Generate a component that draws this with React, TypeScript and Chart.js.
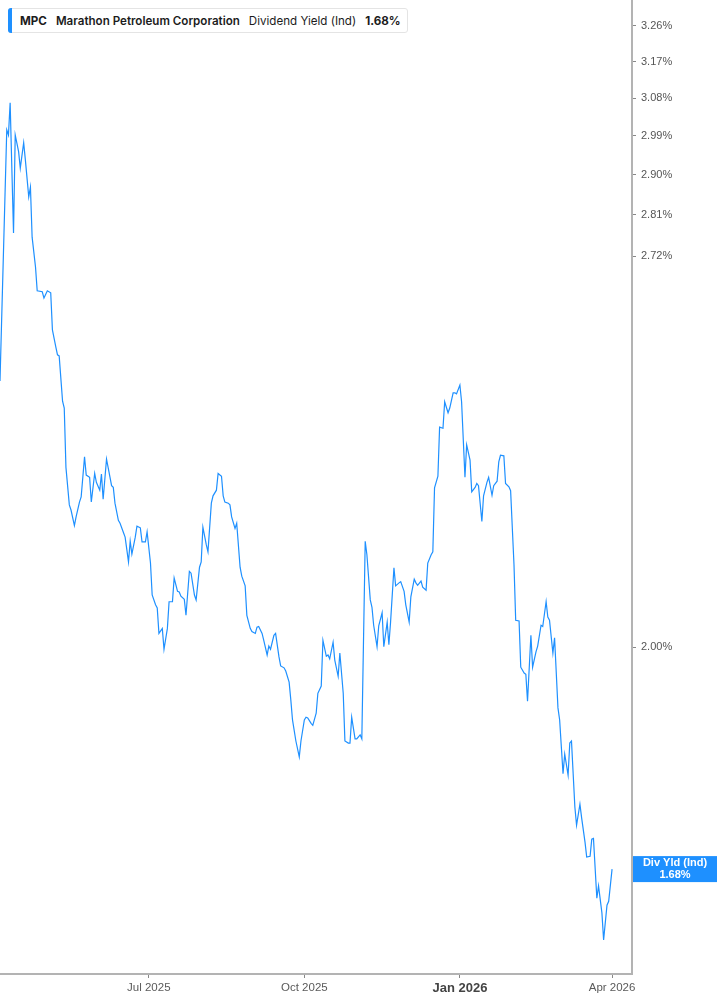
import React, { useEffect, useRef } from "react";
import { Chart, registerables } from "chart.js";

Chart.register(...registerables);

// ---- data ----
const ticker = "MPC";
const company = "Marathon Petroleum Corporation";
const metric = "Dividend Yield (Ind)";
const tagLabel = "Div Yld (Ind)";

const dates: string[] = [
  "2025-04-04", "2025-04-08", "2025-04-09", "2025-04-10", "2025-04-12", "2025-04-13", "2025-04-15", "2025-04-16", "2025-04-18", "2025-04-19",
  "2025-04-21", "2025-04-22", "2025-04-23", "2025-04-25", "2025-04-26", "2025-04-29", "2025-04-30",
  "2025-05-02", "2025-05-04", "2025-05-05", "2025-05-07", "2025-05-08", "2025-05-09", "2025-05-11", "2025-05-12", "2025-05-13", "2025-05-15",
  "2025-05-16", "2025-05-18", "2025-05-19", "2025-05-21", "2025-05-22", "2025-05-24", "2025-05-25", "2025-05-27", "2025-05-28", "2025-05-30", "2025-05-31",
  "2025-06-02", "2025-06-03", "2025-06-04", "2025-06-06", "2025-06-07", "2025-06-09", "2025-06-10", "2025-06-11", "2025-06-13", "2025-06-14",
  "2025-06-16", "2025-06-17", "2025-06-19", "2025-06-20", "2025-06-21", "2025-06-23", "2025-06-24", "2025-06-26", "2025-06-27", "2025-06-29", "2025-06-30",
  "2025-07-02", "2025-07-03", "2025-07-05", "2025-07-06", "2025-07-07", "2025-07-09", "2025-07-10", "2025-07-12", "2025-07-13", "2025-07-15",
  "2025-07-16", "2025-07-18", "2025-07-19", "2025-07-20", "2025-07-22", "2025-07-23", "2025-07-25", "2025-07-26", "2025-07-28", "2025-07-29", "2025-07-31",
  "2025-08-01", "2025-08-02", "2025-08-04", "2025-08-05", "2025-08-07", "2025-08-08", "2025-08-10", "2025-08-11", "2025-08-13", "2025-08-14",
  "2025-08-15", "2025-08-17", "2025-08-18", "2025-08-19", "2025-08-21", "2025-08-22", "2025-08-24", "2025-08-25", "2025-08-27", "2025-08-28", "2025-08-30", "2025-08-31",
  "2025-09-02", "2025-09-03", "2025-09-04", "2025-09-06", "2025-09-07", "2025-09-09", "2025-09-10", "2025-09-11", "2025-09-13", "2025-09-14",
  "2025-09-16", "2025-09-17", "2025-09-19", "2025-09-20", "2025-09-22", "2025-09-23", "2025-09-24", "2025-09-26", "2025-09-28", "2025-09-29",
  "2025-10-01", "2025-10-02", "2025-10-03", "2025-10-05", "2025-10-06", "2025-10-08", "2025-10-09", "2025-10-11", "2025-10-12", "2025-10-14",
  "2025-10-15", "2025-10-16", "2025-10-18", "2025-10-19", "2025-10-21", "2025-10-22", "2025-10-24", "2025-10-25", "2025-10-27", "2025-10-28", "2025-10-29", "2025-10-31",
  "2025-11-01", "2025-11-03", "2025-11-04", "2025-11-06", "2025-11-07", "2025-11-09", "2025-11-10", "2025-11-11", "2025-11-13", "2025-11-14",
  "2025-11-16", "2025-11-17", "2025-11-19", "2025-11-20", "2025-11-21", "2025-11-23", "2025-11-24", "2025-11-26", "2025-11-27", "2025-11-29", "2025-11-30",
  "2025-12-02", "2025-12-03", "2025-12-05", "2025-12-06", "2025-12-07", "2025-12-09", "2025-12-10", "2025-12-12", "2025-12-13", "2025-12-15",
  "2025-12-16", "2025-12-17", "2025-12-19", "2025-12-20", "2025-12-22", "2025-12-23", "2025-12-25", "2025-12-26", "2025-12-28", "2025-12-29", "2025-12-30",
  "2026-01-01", "2026-01-02", "2026-01-04", "2026-01-05", "2026-01-07", "2026-01-08", "2026-01-10", "2026-01-11", "2026-01-12", "2026-01-14",
  "2026-01-15", "2026-01-17", "2026-01-18", "2026-01-20", "2026-01-21", "2026-01-23", "2026-01-24", "2026-01-25", "2026-01-27", "2026-01-28", "2026-01-30", "2026-01-31",
  "2026-02-02", "2026-02-03", "2026-02-05", "2026-02-06", "2026-02-08", "2026-02-09", "2026-02-10", "2026-02-12", "2026-02-13", "2026-02-15",
  "2026-02-16", "2026-02-18", "2026-02-19", "2026-02-21", "2026-02-22", "2026-02-23", "2026-02-25", "2026-02-26", "2026-02-28",
  "2026-03-01", "2026-03-03", "2026-03-04", "2026-03-06", "2026-03-07", "2026-03-08", "2026-03-10", "2026-03-11", "2026-03-13", "2026-03-14",
  "2026-03-16", "2026-03-17", "2026-03-19", "2026-03-20", "2026-03-21", "2026-03-23", "2026-03-24", "2026-03-26", "2026-03-27", "2026-03-29", "2026-03-30",
  "2026-04-01",
];

const yieldPct: number[] = [
  2.466, 3.004, 2.992, 3.069, 2.770, 2.992, 2.953, 2.915, 2.974, 2.934,
  2.850, 2.872, 2.761, 2.697, 2.647, 2.645, 2.632,
  2.647, 2.643, 2.567, 2.533, 2.517, 2.515, 2.427, 2.414, 2.304, 2.237,
  2.228, 2.201, 2.216, 2.242, 2.251, 2.323, 2.290, 2.286, 2.242, 2.293, 2.277,
  2.263, 2.292, 2.247, 2.319, 2.303, 2.271, 2.268, 2.240, 2.210, 2.205,
  2.189, 2.181, 2.139, 2.174, 2.152, 2.181, 2.200, 2.197, 2.173, 2.173, 2.190,
  2.137, 2.084, 2.068, 2.063, 2.022, 2.030, 1.997, 2.030, 2.073, 2.073,
  2.112, 2.090, 2.089, 2.082, 2.077, 2.051, 2.123, 2.120, 2.084, 2.076, 2.130,
  2.139, 2.198, 2.168, 2.156, 2.240, 2.253, 2.263, 2.293, 2.288, 2.253,
  2.242, 2.240, 2.237, 2.216, 2.196, 2.205, 2.130, 2.115, 2.099, 2.051, 2.030, 2.025,
  2.022, 2.032, 2.033, 2.022, 2.011, 1.988, 2.002, 1.997, 2.019, 2.022,
  1.985, 1.971, 1.968, 1.963, 1.946, 1.919, 1.889, 1.858, 1.835, 1.858,
  1.889, 1.893, 1.892, 1.884, 1.881, 1.899, 1.929, 1.940, 2.011, 1.986,
  1.988, 1.982, 2.008, 1.980, 1.955, 1.991, 1.929, 1.858, 1.855, 1.855, 1.893, 1.861,
  1.861, 1.867, 1.861, 2.174, 2.151, 2.076, 2.064, 2.035, 2.001, 2.034,
  2.055, 2.001, 2.040, 2.004, 2.040, 2.129, 2.099, 2.104, 2.106, 2.090, 2.068,
  2.040, 2.081, 2.110, 2.104, 2.100, 2.107, 2.097, 2.092, 2.137, 2.151,
  2.156, 2.267, 2.288, 2.378, 2.376, 2.426, 2.405, 2.414, 2.443, 2.443, 2.441,
  2.458, 2.426, 2.286, 2.345, 2.317, 2.260, 2.268, 2.275, 2.271, 2.208,
  2.253, 2.277, 2.286, 2.254, 2.271, 2.279, 2.314, 2.326, 2.325, 2.275, 2.269, 2.262,
  2.134, 2.043, 2.042, 1.969, 1.960, 1.958, 1.917, 2.019, 1.969, 1.993,
  2.002, 2.035, 2.033, 2.073, 2.048, 2.043, 1.991, 2.015, 1.907,
  1.889, 1.811, 1.839, 1.809, 1.855, 1.858, 1.764, 1.739, 1.768, 1.749,
  1.716, 1.696, 1.697, 1.720, 1.721, 1.642, 1.658, 1.623, 1.589, 1.633, 1.638,
  1.680,
];

const yTickValues: number[] = [3.26, 3.17, 3.08, 2.99, 2.9, 2.81, 2.72, 2.0];
const xTickDates: string[] = ["2025-07-01", "2025-10-01", "2026-01-01", "2026-04-01"];
const xTickLabels: string[] = ["Jul 2025", "Oct 2025", "Jan 2026", "Apr 2026"];
const boldTickLabel = "Jan 2026";

const X_MIN = "2025-04-04T00:00:00Z";
const X_MAX = "2026-04-12T19:00:00Z";
const Y_MIN = 1.547;
const Y_MAX = 3.327;

const LINE_BLUE = "#1e90ff";
const AXIS_FONT = '"Liberation Sans", Arial, sans-serif';

const toTs = (s: string) => Date.parse(s.length === 10 ? s + "T00:00:00Z" : s);

const tagPlugin = {
  id: "lastValueTag",
  afterDraw(chart: any) {
    const { ctx, chartArea } = chart;
    const y = chart.scales.y;
    const last = yieldPct[yieldPct.length - 1];
    const py = y.getPixelForValue(last);
    const x0 = chartArea.right + 1;
    const w = chart.width - x0;
    const h = 26;
    ctx.save();
    ctx.fillStyle = LINE_BLUE;
    ctx.fillRect(x0, py - h / 2, w, h);
    ctx.fillStyle = "#ffffff";
    ctx.font = `bold 11px ${AXIS_FONT}`;
    ctx.textAlign = "center";
    ctx.textBaseline = "middle";
    ctx.fillText(tagLabel, x0 + w / 2, py - 6);
    ctx.fillText(last.toFixed(2) + "%", x0 + w / 2, py + 6);
    ctx.restore();
  },
};

export default function App() {
  const canvasRef = useRef<HTMLCanvasElement | null>(null);

  useEffect(() => {
    if (!canvasRef.current) return;
    const points = dates.map((d, i) => ({ x: toTs(d), y: yieldPct[i] }));
    const xTickTs = xTickDates.map(toTs);
    const isBold = (c: any) => c.tick && xTickLabels[xTickTs.indexOf(c.tick.value)] === boldTickLabel;

    const chart = new Chart(canvasRef.current, {
      type: "line",
      data: {
        datasets: [
          {
            data: points,
            borderColor: LINE_BLUE,
            borderWidth: 1.2,
            pointRadius: 0,
            tension: 0,
            fill: false,
          },
        ],
      },
      plugins: [tagPlugin],
      options: {
        animation: false,
        responsive: true,
        maintainAspectRatio: false,
        layout: { padding: 0 },
        plugins: { legend: { display: false }, tooltip: { enabled: false }, title: { display: false } },
        scales: {
          x: {
            type: "linear",
            position: "bottom",
            min: toTs(X_MIN),
            max: toTs(X_MAX),
            afterBuildTicks: (s: any) => {
              s.ticks = xTickTs.map((v) => ({ value: v }));
            },
            afterFit: (s: any) => {
              s.height = 31;
              s.paddingLeft = 0;
              s.paddingRight = 0;
            },
            grid: { drawOnChartArea: false, drawTicks: true, tickLength: 4, tickColor: "#888", lineWidth: 1 },
            border: { display: true, color: "#b3b3b3", width: 2 },
            ticks: {
              autoSkip: false,
              maxRotation: 0,
              padding: 3,
              color: (c: any) => (isBold(c) ? "#444" : "#5a5a5a"),
              font: (c: any) =>
                isBold(c) ? { family: AXIS_FONT, size: 13, weight: "bold" } : { family: AXIS_FONT, size: 11.5 },
              callback: (v: any) => {
                const i = xTickTs.indexOf(Number(v));
                return i >= 0 ? xTickLabels[i] : "";
              },
            },
          },
          y: {
            type: "logarithmic",
            position: "right",
            min: Y_MIN,
            max: Y_MAX,
            afterBuildTicks: (s: any) => {
              s.ticks = yTickValues.map((v) => ({ value: v }));
            },
            afterFit: (s: any) => {
              s.width = 85;
              s.paddingTop = 0;
              s.paddingBottom = 0;
            },
            grid: { drawOnChartArea: false, drawTicks: true, tickLength: 4, tickColor: "#888", lineWidth: 1 },
            border: { display: true, color: "#b3b3b3", width: 2 },
            ticks: {
              autoSkip: false,
              padding: 5,
              color: "#555",
              font: { family: AXIS_FONT, size: 11 },
              callback: (v: any) => Number(v).toFixed(2) + "%",
            },
          },
        },
      },
    } as any);

    return () => chart.destroy();
  }, []);

  const last = yieldPct[yieldPct.length - 1];

  return (
    <div style={{ position: "fixed", left: 0, top: 0, width: 717, height: 1005, background: "#fff" }}>
      <canvas ref={canvasRef} />
      <div
        style={{
          position: "absolute",
          left: 8,
          top: 8,
          width: 400,
          height: 25,
          boxSizing: "border-box",
          border: "1px solid #e4e4e4",
          borderRadius: 3,
          background: "#fff",
          display: "flex",
          alignItems: "center",
          fontFamily: "Inter, Roboto, sans-serif",
          fontSize: 11.6,
          color: "#1c1c1c",
          whiteSpace: "nowrap",
        }}
      >
        <div style={{ position: "absolute", left: -1, top: -1, bottom: -1, width: 4, background: LINE_BLUE, borderRadius: "3px 0 0 3px" }} />
        <span style={{ marginLeft: 11, fontWeight: 700 }}>{ticker}</span>
        <span style={{ marginLeft: 9, fontWeight: 600 }}>{company}</span>
        <span style={{ marginLeft: 9, fontWeight: 400 }}>{metric}</span>
        <span style={{ marginLeft: 9, fontWeight: 700 }}>{last.toFixed(2) + "%"}</span>
      </div>
    </div>
  );
}
